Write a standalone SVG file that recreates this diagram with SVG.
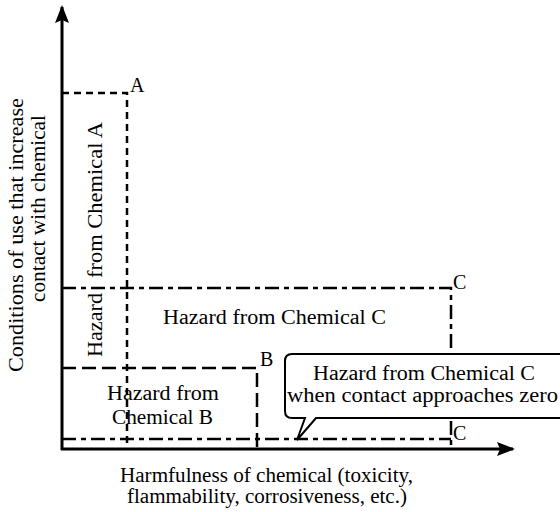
<svg xmlns="http://www.w3.org/2000/svg" width="560" height="512" viewBox="0 0 560 512">
<style>
text{font-family:"Liberation Serif","Times New Roman",serif;font-size:20px;fill:#000}
.axis{stroke:#000;stroke-width:3;fill:none}
.boxA{stroke:#000;stroke-width:2.5;fill:none;stroke-dasharray:7 5}
.boxB{stroke:#000;stroke-width:2.5;fill:none;stroke-dasharray:14 6}
.boxC{stroke:#000;stroke-width:2.5;fill:none;stroke-dasharray:14 5 5 5}
.call{stroke:#000;stroke-width:2;fill:#fff}
</style>
<defs>
<marker id="arr" viewBox="0 0 18 14" refX="16" refY="7" markerWidth="18" markerHeight="14" markerUnits="userSpaceOnUse" orient="auto">
<path d="M0,0 L18,7 L0,14 L3,7 z" fill="#000"/>
</marker>
</defs>
<rect width="560" height="512" fill="#fff"/>
<g id="connectors">
<line class="axis" x1="62" y1="450" x2="62" y2="7" marker-end="url(#arr)"/>
<line class="axis" x1="61" y1="449" x2="513" y2="449" marker-end="url(#arr)"/>
</g>
<g id="boxA">
<path class="boxA" d="M62,93 H127 V449"/>
<text x="130" y="92">A</text>
</g>
<g id="boxC">
<path class="boxC" d="M62,288 H451 V449"/>
<text x="453" y="289">C</text>
<text x="163" y="324" textLength="223" lengthAdjust="spacingAndGlyphs">Hazard from Chemical C</text>
</g>
<g id="boxB">
<path class="boxB" d="M62,368 H257 V449"/>
<text x="260" y="366">B</text>
<text x="107" y="400" textLength="112" lengthAdjust="spacingAndGlyphs">Hazard from</text>
<text x="112" y="424" textLength="101" lengthAdjust="spacingAndGlyphs">Chemical B</text>
</g>
<g id="labelA">
<text transform="translate(102,357) rotate(-90)" textLength="64" lengthAdjust="spacingAndGlyphs">Hazard</text>
<text transform="translate(102,278) rotate(-90)" textLength="156" lengthAdjust="spacingAndGlyphs">from Chemical A</text>
</g>
<g id="boxCzero">
<path class="boxC" d="M62,439 H451"/>
<text x="453" y="440">C</text>
</g>
<g id="callout">
<path class="call" d="M292,354 H570 V418 H316 L297,440 L305,418 H292 Q285,418 285,411 V361 Q285,354 292,354 Z"/>
<text x="313" y="380" textLength="222" lengthAdjust="spacingAndGlyphs">Hazard from Chemical C</text>
<text x="287" y="402" textLength="271" lengthAdjust="spacingAndGlyphs">when contact approaches zero</text>
</g>
<g id="yLabel">
<text transform="translate(23,372) rotate(-90)" textLength="274" lengthAdjust="spacingAndGlyphs">Conditions of use that increase</text>
<text transform="translate(45,302) rotate(-90)" textLength="187" lengthAdjust="spacingAndGlyphs">contact with chemical</text>
</g>
<g id="xLabel">
<text x="120" y="482" textLength="293" lengthAdjust="spacingAndGlyphs">Harmfulness of chemical (toxicity,</text>
<text x="127" y="503" textLength="280" lengthAdjust="spacingAndGlyphs">flammability, corrosiveness, etc.)</text>
</g>
</svg>
